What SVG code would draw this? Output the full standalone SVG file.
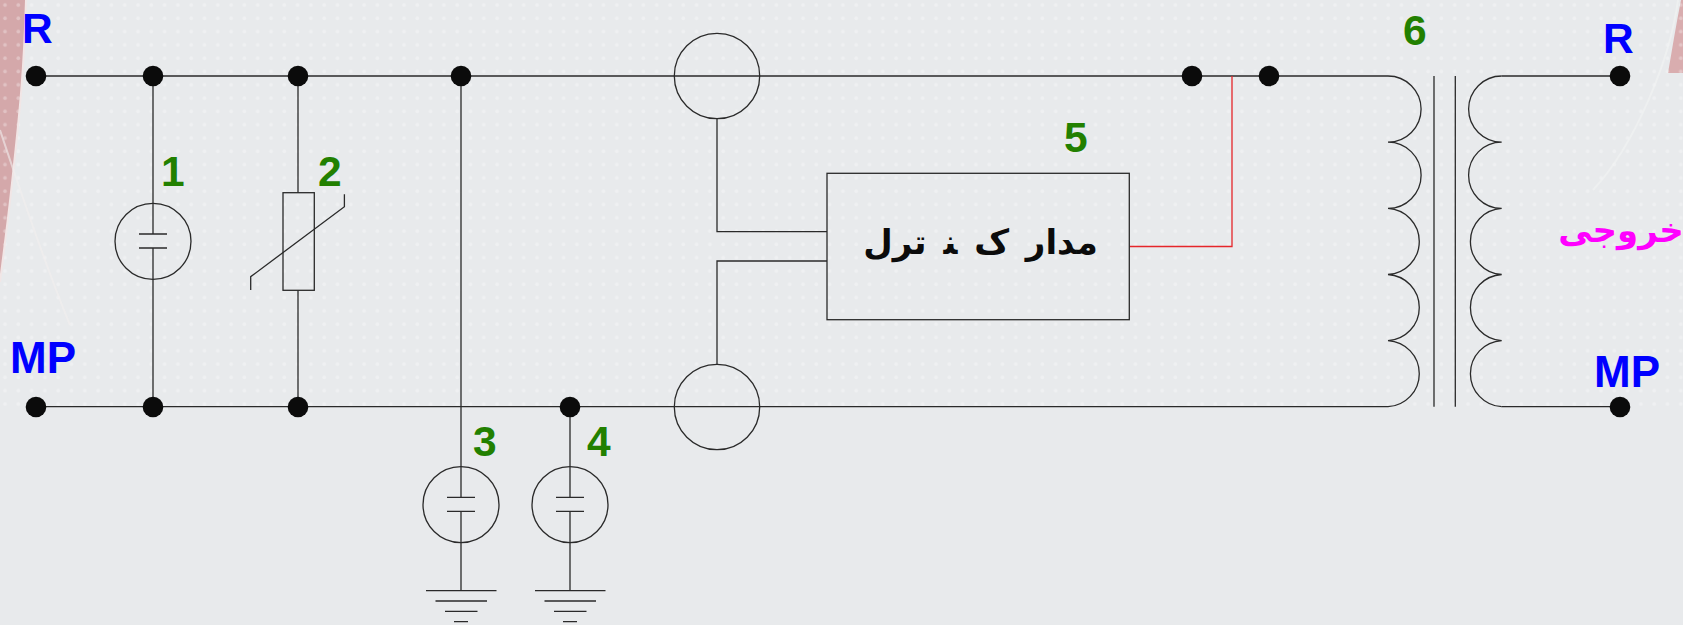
<svg xmlns="http://www.w3.org/2000/svg" width="1683" height="625" viewBox="0 0 1683 625">
<defs>
<pattern id="dots" width="13.300" height="13.300" patternUnits="userSpaceOnUse"><circle cx="5" cy="5" r="1.800" fill="#ffffff" fill-opacity="0.3"/></pattern>
<circle id="dot" r="10.300" fill="#0b0b0b"/>
<g id="arrester"><circle r="38" class="w"/><path class="w" d="M-14 -7.300H14M-14 6.700H14"/></g>
<path id="ground" class="w" d="M-35 0H35.500M-25.500 10.300H26M-16 20.600H16.500M-7 31H7"/>
</defs>
<style>
.w{fill:none;stroke:#2a2a2a;stroke-width:1.300}
.l{font-family:"Liberation Sans",Arial,sans-serif;font-weight:bold;font-size:42.500px}
.m{font-size:44px}
.b{fill:#0000ff}.g{fill:#228000}
.p{font-family:"DejaVu Sans",sans-serif;font-weight:bold;text-anchor:middle}
</style>
<rect width="1683" height="625" fill="#e8eaec"/>
<path d="M0 0H26C24 70 20 110 12 183C8 220 4 250 0 282Z" fill="#d4a8aa"/>
<path d="M1668 73H1683V0H1681C1676 25 1672 50 1668 73Z" fill="#d9adaf"/>
<rect width="1683" height="407" fill="url(#dots)"/>
<path d="M26 0C24 70 20 110 12 183C8 220 4 250 0 282" fill="none" stroke="#f1e6e6" stroke-width="2"/>
<path d="M0 130C20 190 45 265 70 325" fill="none" stroke="#f1eeee" stroke-width="2" stroke-opacity="0.6"/>
<path d="M1678 0C1670 60 1635 145 1593 190" fill="none" stroke="#f1f3f4" stroke-width="2" stroke-opacity="0.6"/>
<g id="connectors">
<path class="w" d="M36 76H1388M36 406.700H1388M153 76V234M153 248V407M298 76V192.700M298 290.300V407M461 76V497.300M461 511.300V590.700M570 407V497.300M570 511.300V590.700M717 118.700V231.700H827M717 364.300V261H827M1501.700 76H1620M1501.700 406.700H1620"/>
<path d="M1232 76V246.500H1129.500" fill="none" stroke="#e5262a" stroke-width="1.300"/>
</g>
<g id="n-R-in"><use href="#dot" x="36" y="76"/><text class="l b" x="22" y="43">R</text></g>
<g id="n-MP-in"><use href="#dot" x="36" y="407"/><text class="l b m" x="10" y="373">MP</text></g>
<g id="junctions">
<use href="#dot" x="153" y="76"/><use href="#dot" x="298" y="76"/><use href="#dot" x="461" y="76"/><use href="#dot" x="1192" y="76"/><use href="#dot" x="1269" y="76"/>
<use href="#dot" x="153" y="407"/><use href="#dot" x="298" y="407"/><use href="#dot" x="570" y="407"/>
</g>
<g id="n1"><use href="#arrester" x="153" y="241.300"/><text class="l g" x="161" y="186">1</text></g>
<g id="n2"><rect class="w" x="283" y="192.700" width="31.300" height="97.600"/><path class="w" d="M250.700 290V276.700L344.400 206.700V194.300"/><text class="l g" x="318" y="186">2</text></g>
<g id="n3"><use href="#arrester" x="461" y="504.700"/><use href="#ground" x="461" y="590.700"/><text class="l g" x="473" y="455.500">3</text></g>
<g id="n4"><use href="#arrester" x="570" y="504.700"/><use href="#ground" x="570" y="590.700"/><text class="l g" x="587" y="455.500">4</text></g>
<g id="ct-top"><circle class="w" cx="717" cy="76" r="42.700"/></g>
<g id="ct-bottom"><circle class="w" cx="717" cy="407" r="42.700"/></g>
<g id="n5"><rect class="w" x="827" y="173.300" width="302.300" height="146.400"/><text class="p" x="980.500" y="254" font-size="34" word-spacing="5" fill="#0b0b0b">مدار ک ‍ن‍ ترل</text><text class="l g" x="1064" y="152">5</text></g>
<g id="n6">
<path class="w" d="M1388 76A33.100 33.100 0 0 1 1388 142.200A33.100 33.100 0 0 1 1388 208.400A33.100 33.100 0 0 1 1388 274.500A33.100 33.100 0 0 1 1388 340.600A33.100 33.100 0 0 1 1388 406.700"/>
<path class="w" d="M1501.700 76A33.100 33.100 0 0 0 1501.700 142.200A33.100 33.100 0 0 0 1501.700 208.400A33.100 33.100 0 0 0 1501.700 274.500A33.100 33.100 0 0 0 1501.700 340.600A33.100 33.100 0 0 0 1501.700 406.700"/>
<path class="w" d="M1434 76V406.700M1455.300 76V406.700"/>
<text class="l g" x="1403" y="44.500">6</text>
</g>
<g id="n-R-out"><use href="#dot" x="1620" y="76"/><text class="l b" x="1603" y="53">R</text></g>
<g id="n-MP-out"><use href="#dot" x="1620" y="407"/><text class="l b m" x="1594" y="387">MP</text></g>
<text id="output-label" class="p" x="1621" y="242" font-size="34" fill="#ff00ff">خروجی</text>
</svg>
